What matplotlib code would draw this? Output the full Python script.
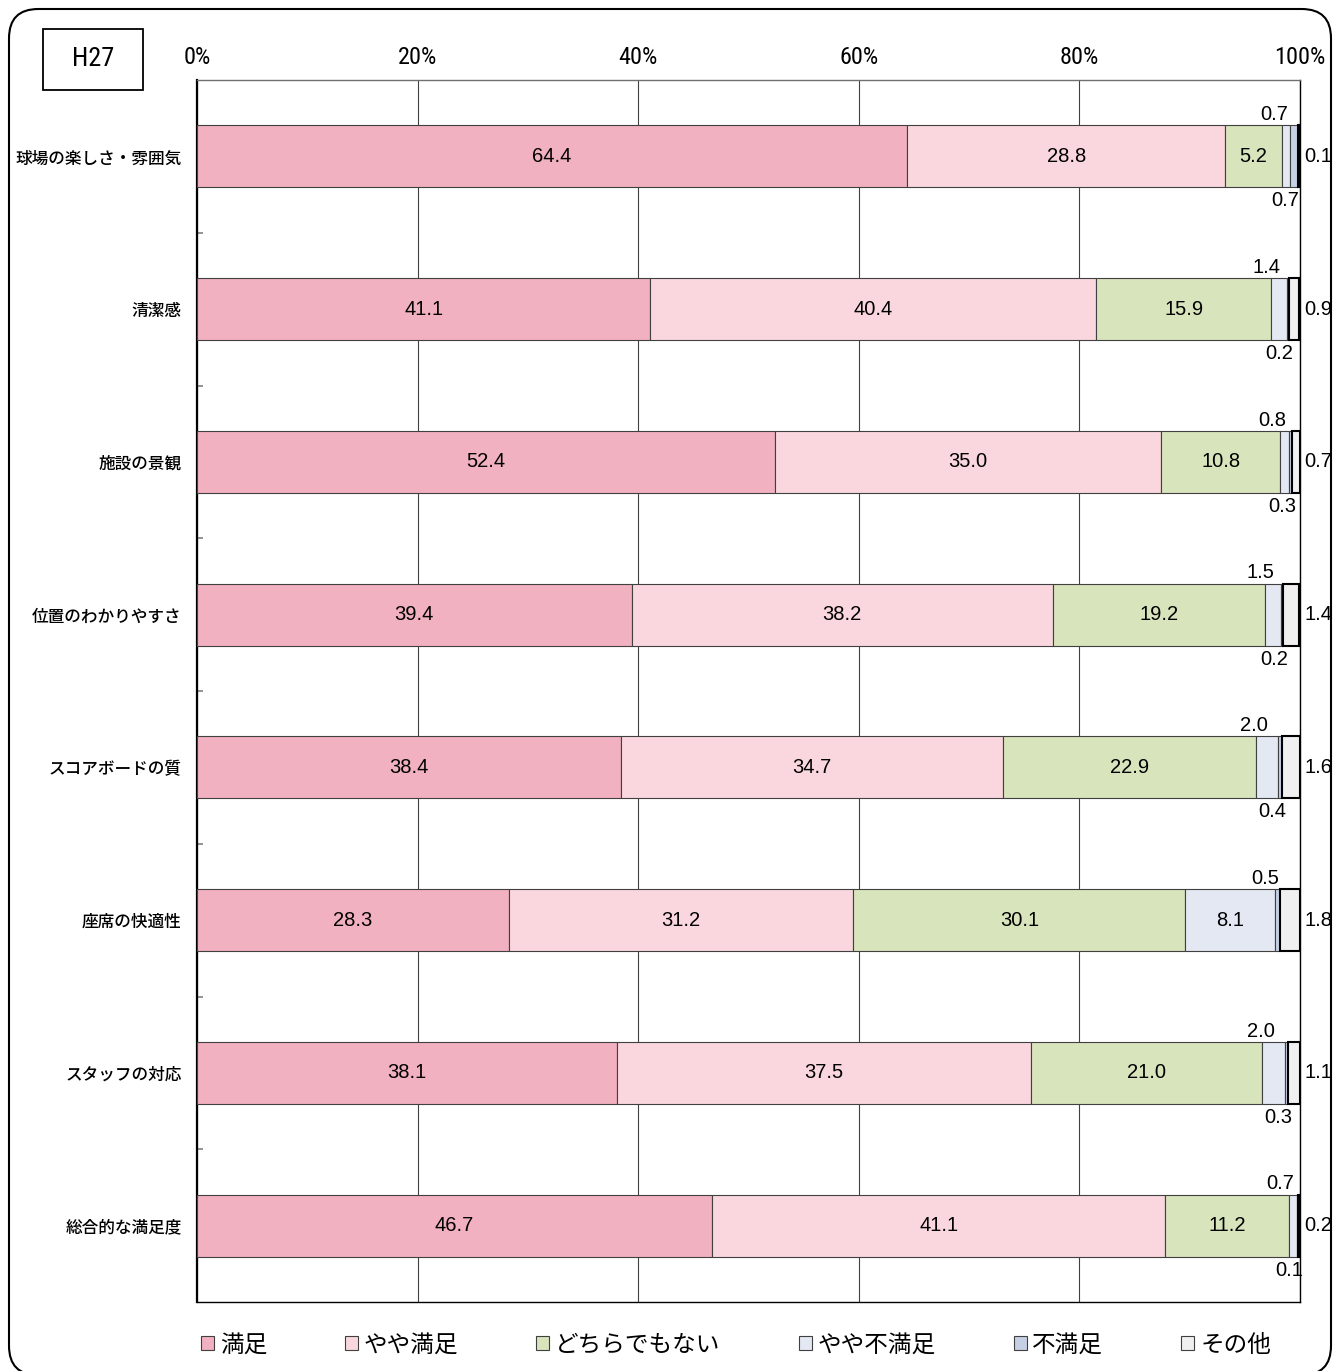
import matplotlib
matplotlib.use("Agg")
import matplotlib.pyplot as plt
from matplotlib import font_manager
from matplotlib.patches import FancyBboxPatch, Rectangle

plt.rcParams['font.family'] = ['Noto Sans CJK JP', 'DejaVu Sans']

categories = ['球場の楽しさ・雰囲気', '清潔感', '施設の景観', '位置のわかりやすさ',
              'スコアボードの質', '座席の快適性', 'スタッフの対応', '総合的な満足度']
series_names = ['満足', 'やや満足', 'どちらでもない', 'やや不満足', '不満足', 'その他']

manzoku = [64.4, 41.1, 52.4, 39.4, 38.4, 28.3, 38.1, 46.7]
yaya_manzoku = [28.8, 40.4, 35.0, 38.2, 34.7, 31.2, 37.5, 41.1]
dochira = [5.2, 15.9, 10.8, 19.2, 22.9, 30.1, 21.0, 11.2]
yaya_fuman = [0.7, 1.4, 0.8, 1.5, 2.0, 8.1, 2.0, 0.7]
fuman = [0.7, 0.2, 0.3, 0.2, 0.4, 0.5, 0.3, 0.1]
sonota = [0.1, 0.9, 0.7, 1.4, 1.6, 1.8, 1.1, 0.2]
series = [manzoku, yaya_manzoku, dochira, yaya_fuman, fuman, sonota]

colors = ['#F2B1C0', '#FAD7DE', '#D8E4BC', '#E3E8F3', '#C6D0E4', '#F0F0F0']
xticks = [0, 20, 40, 60, 80, 100]

# pick a narrow face for the percent ticks and the year box if one is installed
installed = {f.name for f in font_manager.fontManager.ttflist}
narrow = next((n for n in ['Liberation Sans Narrow', 'DejaVu Sans Condensed',
                           'Roboto Condensed', 'Liberation Sans'] if n in installed),
              'DejaVu Sans')
narrow_font = [narrow, 'DejaVu Sans']
num_font = ['Liberation Sans', 'DejaVu Sans']

W, H = 1333, 1371
fig = plt.figure(figsize=(W / 100, H / 100), dpi=100)
ax = fig.add_axes([197 / W, 1 - 1302 / H, (1300 - 197) / W, (1302 - 80) / H])

bar_h = 0.405
ypos = list(range(len(categories)))

left = [0.0] * len(categories)
for k, (vals, col) in enumerate(zip(series, colors)):
    last = k == len(series) - 1
    ax.barh(ypos, vals, left=left, height=bar_h, color=col,
            edgecolor='black' if last else '#404040',
            linewidth=1.5 if last else 0.8, zorder=3)
    for i, v in enumerate(vals):
        mid = left[i] + v / 2
        if last:
            # その他 goes outside the plot area on the right
            ax.annotate(f'{v:.1f}', xy=(100, i), xytext=(3, 0),
                        textcoords='offset points', ha='left', va='center',
                        fontsize=14.5, family=num_font, annotation_clip=False)
        elif v >= 5:
            ax.text(mid, i, f'{v:.1f}', ha='center', va='center',
                    fontsize=14.5, family=num_font, zorder=4)
        else:
            # small segments: first one above the bar, second one below
            small_before = sum(1 for s in series[3:k] if s[i] < 5)
            if small_before == 0:
                ax.annotate(f'{v:.1f}', xy=(mid, i - bar_h / 2), xytext=(-9, 1),
                            textcoords='offset points', ha='center', va='bottom',
                            fontsize=14.5, family=num_font, annotation_clip=False)
            else:
                ax.annotate(f'{v:.1f}', xy=(mid, i + bar_h / 2), xytext=(-6, -3),
                            textcoords='offset points', ha='center', va='top',
                            fontsize=14.5, family=num_font, annotation_clip=False)
        left[i] += v

ax.set_xlim(0, 100)
ax.set_ylim(len(categories) - 0.5, -0.5)
ax.xaxis.tick_top()
ax.set_xticks(xticks)
ax.set_xticklabels([f'{t}%' for t in xticks], family=narrow_font, fontsize=17.5)
ax.tick_params(axis='x', length=0, pad=8)
ax.grid(axis='x', color='#404040', linewidth=0.8)
ax.set_axisbelow(True)

ax.set_yticks(ypos)
ax.set_yticklabels(categories, fontsize=12, fontweight='medium')
ax.tick_params(axis='y', which='major', length=0, pad=11)
ax.set_yticks([y + 0.5 for y in ypos[:-1]], minor=True)
ax.tick_params(axis='y', which='minor', direction='in', length=4.5,
               width=1.2, color='#808080')

ax.spines['left'].set_linewidth(1.6)
ax.spines['top'].set_color('#707070')
ax.spines['top'].set_linewidth(1.0)
ax.spines['right'].set_linewidth(1.0)
ax.spines['bottom'].set_linewidth(1.0)

handles = [Rectangle((0, 0), 1, 1, facecolor=c, edgecolor='#404040', linewidth=0.8)
           for c in colors]
fig.legend(handles, series_names, loc='center', ncol=6,
           bbox_to_anchor=(736 / W, 1 - 1345 / H), frameon=False,
           fontsize=17, handlelength=0.55, handleheight=0.55, handletextpad=0.25,
           columnspacing=3.3)

# rounded outer frame
frame = FancyBboxPatch((9 / W, -0.003), (1331 - 9) / W, 1 - 9 / H + 0.003,
                       boxstyle='round,pad=0,rounding_size=0.022',
                       mutation_aspect=W / H, transform=fig.transFigure,
                       facecolor='none', edgecolor='black', linewidth=1.5,
                       clip_on=False)
fig.patches.append(frame)

# year box
fig.patches.append(Rectangle((43 / W, 1 - 90 / H), 100 / W, 61 / H,
                             transform=fig.transFigure, facecolor='white',
                             edgecolor='black', linewidth=1.3))
fig.text(93 / W, 1 - 59 / H, 'H27', ha='center', va='center',
         fontsize=19, family=narrow_font)

fig.savefig('out.png', dpi=100)
